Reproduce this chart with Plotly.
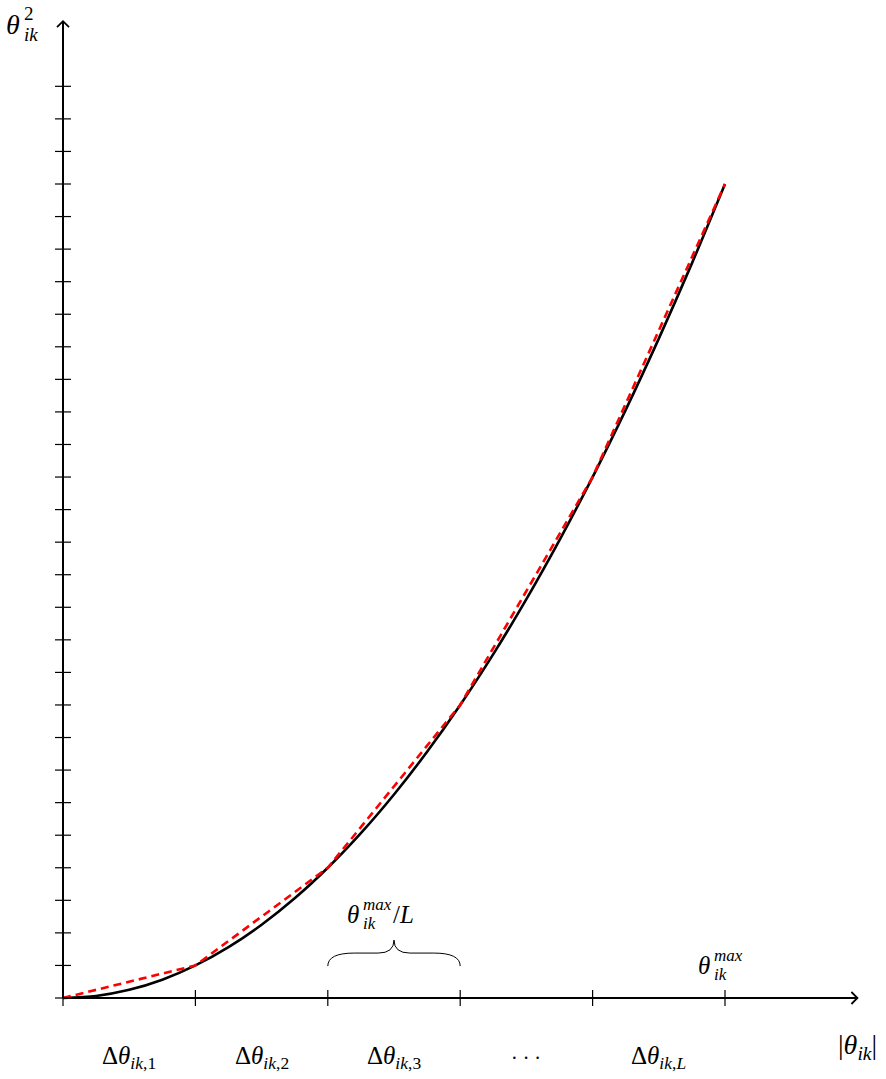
import plotly.graph_objects as go

# Quadratic cost curve theta^2 sampled at quarter-steps of |theta|
curve_x = [0, 0.25, 0.5, 0.75, 1, 1.25, 1.5, 1.75, 2, 2.25, 2.5, 2.75, 3,
           3.25, 3.5, 3.75, 4, 4.25, 4.5, 4.75, 5]
curve_y = [0, 0.0625, 0.25, 0.5625, 1, 1.5625, 2.25, 3.0625, 4, 5.0625, 6.25,
           7.5625, 9, 10.5625, 12.25, 14.0625, 16, 18.0625, 20.25, 22.5625, 25]

# Piecewise-linear approximation breakpoints (L segments)
pwl_x = [0, 1, 2, 3, 4, 5]
pwl_y = [0, 1, 4, 9, 16, 25]

# Axis ticks
x_ticks = [0, 1, 2, 3, 4, 5]
y_ticks = list(range(0, 29))

# Segment labels below the x axis
seg_pos = [0.5, 1.5, 2.5, 3.5, 4.5]
seg_labels = ["Δ<i>θ</i><sub><i>ik</i>,1</sub>", "Δ<i>θ</i><sub><i>ik</i>,2</sub>",
              "Δ<i>θ</i><sub><i>ik</i>,3</sub>", "· · ·", "Δ<i>θ</i><sub><i>ik</i>,<i>L</i></sub>"]
seg_sizes = [25, 25, 25, 20, 25]

X_END, Y_END = 6.0, 30.0
FONT = "Liberation Serif"

fig = go.Figure()
fig.add_trace(go.Scatter(x=curve_x, y=curve_y, mode="lines",
                         line=dict(color="black", width=2.6, shape="spline", smoothing=0.8),
                         hoverinfo="skip", showlegend=False))
fig.add_trace(go.Scatter(x=pwl_x, y=pwl_y, mode="lines",
                         line=dict(color="#ff0000", width=2.6, dash="8px,5px"),
                         hoverinfo="skip", showlegend=False))

shapes = []
# axes
shapes.append(dict(type="line", x0=0, y0=0, x1=X_END, y1=0, xref="x", yref="y",
                   line=dict(color="black", width=2)))
shapes.append(dict(type="line", x0=0, y0=0, x1=0, y1=Y_END, xref="x", yref="y",
                   line=dict(color="black", width=2)))
# open arrowheads
shapes.append(dict(type="path", xref="x", yref="y", xsizemode="pixel", ysizemode="pixel",
                   xanchor=X_END, yanchor=0, path="M -6,6 L 0,0 L -6,-6",
                   line=dict(color="black", width=1.8)))
shapes.append(dict(type="path", xref="x", yref="y", xsizemode="pixel", ysizemode="pixel",
                   xanchor=0, yanchor=Y_END, path="M -6,-6 L 0,0 L 6,-6",
                   line=dict(color="black", width=1.8)))
# tick marks crossing the axes
for t in x_ticks:
    shapes.append(dict(type="line", xref="x", yref="y", ysizemode="pixel", yanchor=0,
                       x0=t, x1=t, y0=-8, y1=8, line=dict(color="black", width=1.2)))
for t in y_ticks:
    shapes.append(dict(type="line", xref="x", yref="y", xsizemode="pixel", xanchor=0,
                       x0=-8, x1=8, y0=t, y1=t, line=dict(color="black", width=1.2)))
# curly brace spanning one segment
b_lo, b_mid, b_tip = 0.98, 1.38, 1.78
bx0, bx1 = pwl_x[2], pwl_x[3]
bc = (bx0 + bx1) / 2
shapes.append(dict(type="path", xref="x", yref="y",
                   path=(f"M {bx0},{b_lo} Q {bx0},{b_mid} {bx0+0.2},{b_mid} "
                         f"L {bc-0.12},{b_mid} Q {bc},{b_mid} {bc},{b_tip} "
                         f"Q {bc},{b_mid} {bc+0.12},{b_mid} L {bx1-0.2},{b_mid} "
                         f"Q {bx1},{b_mid} {bx1},{b_lo}"),
                   line=dict(color="black", width=1)))

annotations = []
for p, lab, sz in zip(seg_pos, seg_labels, seg_sizes):
    annotations.append(dict(x=p, y=-1.84, xref="x", yref="y", text=lab, showarrow=False,
                            font=dict(size=sz, family=FONT, color="black")))
annotations.append(dict(x=X_END, y=-1.5, xref="x", yref="y",
                        text="|<i>θ</i><sub><i>ik</i></sub>|", showarrow=False,
                        font=dict(size=28, family=FONT, color="black")))


def stacked(x, y, sup, sub, size, xs=0, ys=0):
    """theta with a superscript stacked over a subscript."""
    annotations.append(dict(x=x, y=y, xref="x", yref="y", text="<i>θ</i>", showarrow=False,
                            xanchor="right", xshift=xs, yshift=ys,
                            font=dict(size=size, family=FONT, color="black")))
    small = round(size * 0.68)
    annotations.append(dict(x=x, y=y, xref="x", yref="y", text=sup, showarrow=False,
                            xanchor="left", xshift=xs, yshift=ys + size * 0.4,
                            font=dict(size=small, family=FONT, color="black")))
    annotations.append(dict(x=x, y=y, xref="x", yref="y", text=sub, showarrow=False,
                            xanchor="left", xshift=xs, yshift=ys - size * 0.36,
                            font=dict(size=small, family=FONT, color="black")))


stacked(-0.31, 29.9, "2", "<i>ik</i>", 28)
stacked(4.90, 1.0, "<i>max</i>", "<i>ik</i>", 25)
stacked(2.25, 2.55, "<i>max</i>", "<i>ik</i>", 25)
annotations.append(dict(x=2.48, y=2.55, xref="x", yref="y", text="/<i>L</i>", showarrow=False,
                        xanchor="left", xshift=0,
                        font=dict(size=25, family=FONT, color="black")))

px_x, px_y = 132.4, 32.56
fig.update_layout(
    width=886, height=1079,
    margin=dict(l=0, r=0, t=0, b=0),
    paper_bgcolor="white", plot_bgcolor="white",
    shapes=shapes, annotations=annotations,
    xaxis=dict(range=[-63 / px_x, (886 - 63) / px_x], visible=False, fixedrange=True),
    yaxis=dict(range=[-(1079 - 998) / px_y, 998 / px_y], visible=False, fixedrange=True),
    showlegend=False,
)
fig.write_html("out.html")
